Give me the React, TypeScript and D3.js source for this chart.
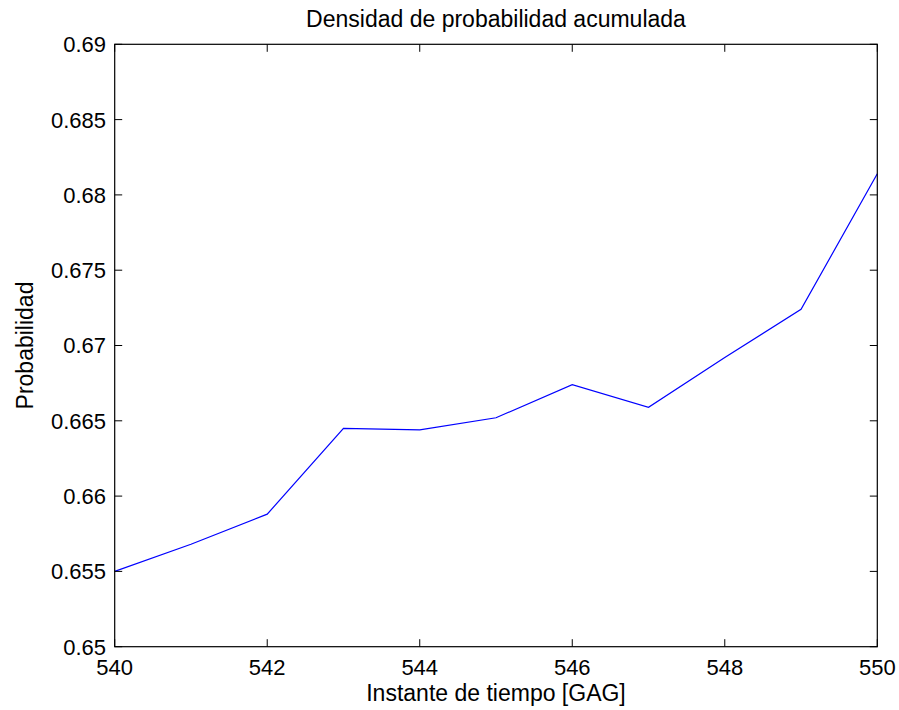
import React from "react";
import * as d3 from "d3";

// Time instants (GAG) and cumulative probability density
const instants = [540, 541, 542, 543, 544, 545, 546, 547, 548, 549, 550];
const probability = [0.655, 0.6568, 0.6588, 0.6645, 0.6644, 0.6652, 0.6674, 0.6659, 0.6692, 0.6724, 0.6814];

const xTicks = [540, 542, 544, 546, 548, 550];
const yTicks = [0.65, 0.655, 0.66, 0.665, 0.67, 0.675, 0.68, 0.685, 0.69];

const titleText = "Densidad de probabilidad acumulada";
const xLabelText = "Instante de tiempo [GAG]";
const yLabelText = "Probabilidad";

const W = 899;
const H = 710;
const margin = { left: 114.7, right: W - 877.3, top: 44.3, bottom: H - 646.7 };
const FONT = "'Liberation Sans', Arial, Helvetica, sans-serif";

export default function App() {
  const x = d3.scaleLinear().domain([540, 550]).range([margin.left, W - margin.right]);
  const y = d3.scaleLinear().domain([0.65, 0.69]).range([H - margin.bottom, margin.top]);
  const [x0, x1] = x.range();
  const [y0, y1] = y.range();
  const tickLen = 7.5;

  const line = d3
    .line<number>()
    .x((_, i) => x(instants[i]))
    .y((d) => y(d));

  const fmtY = (v: number) => d3.format("")(+v.toFixed(3));

  return (
    <svg
      width={W}
      height={H}
      style={{ position: "absolute", left: 0, top: 0, background: "#fff" }}
      fontFamily={FONT}
    >
      <rect x={0} y={0} width={W} height={H} fill="#fff" />
      {/* data line */}
      <path d={line(probability) || ""} fill="none" stroke="#0000ff" strokeWidth={1.2} />

      {/* axes box */}
      <rect x={x0} y={y1} width={x1 - x0} height={y0 - y1} fill="none" stroke="#000" strokeWidth={1.2} />

      {/* x ticks (bottom and top, inward) */}
      {xTicks.map((t) => (
        <g key={"xt" + t}>
          <line x1={x(t)} x2={x(t)} y1={y0} y2={y0 - tickLen} stroke="#000" strokeWidth={1} />
          <line x1={x(t)} x2={x(t)} y1={y1} y2={y1 + tickLen} stroke="#000" strokeWidth={1} />
          <text x={x(t)} y={675} textAnchor="middle" fontSize={22} fill="#000">
            {t}
          </text>
        </g>
      ))}

      {/* y ticks (left and right, inward) */}
      {yTicks.map((t) => (
        <g key={"yt" + t}>
          <line x1={x0} x2={x0 + tickLen} y1={y(t)} y2={y(t)} stroke="#000" strokeWidth={1} />
          <line x1={x1} x2={x1 - tickLen} y1={y(t)} y2={y(t)} stroke="#000" strokeWidth={1} />
          <text x={106} y={y(t)} dy="0.36em" textAnchor="end" fontSize={22} fill="#000">
            {fmtY(t)}
          </text>
        </g>
      ))}

      {/* title and axis labels */}
      <text x={(x0 + x1) / 2} y={26.7} textAnchor="middle" fontSize={23} fill="#000">
        {titleText}
      </text>
      <text x={(x0 + x1) / 2} y={700.7} textAnchor="middle" fontSize={23} fill="#000">
        {xLabelText}
      </text>
      <text
        transform={`translate(33.3, ${(y0 + y1) / 2}) rotate(-90)`}
        textAnchor="middle"
        fontSize={23}
        fill="#000"
      >
        {yLabelText}
      </text>
    </svg>
  );
}
